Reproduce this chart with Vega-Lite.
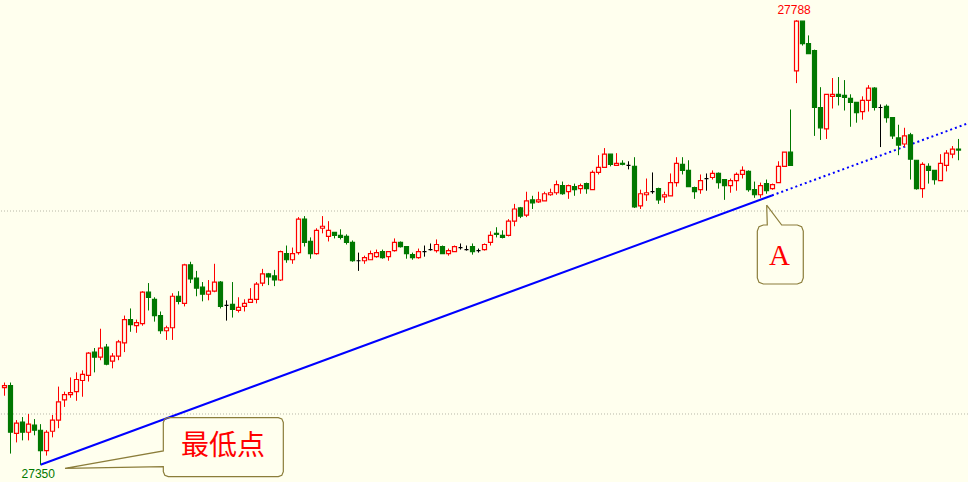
{
  "$schema": "https://vega.github.io/schema/vega-lite/v6.json",
  "width": 968,
  "height": 482,
  "padding": 0,
  "autosize": {"type": "none"},
  "background": "#ffffee",
  "config": {"view": {"stroke": null}, "scale": {"continuousPadding": 0}},
  "datasets": {
    "k": [
      {"i":0,"o":27426,"h":27431,"l":27418,"c":27428},
      {"i":1,"o":27428,"h":27431,"l":27361,"c":27382},
      {"i":2,"o":27381,"h":27394,"l":27372,"c":27391},
      {"i":3,"o":27392,"h":27397,"l":27374,"c":27382},
      {"i":4,"o":27382,"h":27400,"l":27374,"c":27390},
      {"i":5,"o":27389,"h":27395,"l":27379,"c":27384},
      {"i":6,"o":27384,"h":27390,"l":27350,"c":27364},
      {"i":7,"o":27364,"h":27384,"l":27359,"c":27382},
      {"i":8,"o":27383,"h":27399,"l":27377,"c":27394},
      {"i":9,"o":27394,"h":27427,"l":27386,"c":27412},
      {"i":10,"o":27414,"h":27422,"l":27407,"c":27419},
      {"i":11,"o":27419,"h":27436,"l":27416,"c":27421},
      {"i":12,"o":27422,"h":27441,"l":27413,"c":27434},
      {"i":13,"o":27433,"h":27443,"l":27417,"c":27439},
      {"i":14,"o":27438,"h":27461,"l":27432,"c":27460},
      {"i":15,"o":27461,"h":27465,"l":27441,"c":27456},
      {"i":16,"o":27456,"h":27484,"l":27453,"c":27465},
      {"i":17,"o":27466,"h":27469,"l":27448,"c":27449},
      {"i":18,"o":27452,"h":27460,"l":27445,"c":27457},
      {"i":19,"o":27457,"h":27473,"l":27453,"c":27471},
      {"i":20,"o":27470,"h":27497,"l":27461,"c":27493},
      {"i":21,"o":27493,"h":27504,"l":27481,"c":27488},
      {"i":22,"o":27487,"h":27493,"l":27480,"c":27490},
      {"i":23,"o":27489,"h":27521,"l":27487,"c":27520},
      {"i":24,"o":27520,"h":27529,"l":27502,"c":27515},
      {"i":25,"o":27513,"h":27515,"l":27491,"c":27497},
      {"i":26,"o":27497,"h":27501,"l":27479,"c":27482},
      {"i":27,"o":27482,"h":27487,"l":27473,"c":27485},
      {"i":28,"o":27485,"h":27519,"l":27473,"c":27516},
      {"i":29,"o":27516,"h":27521,"l":27508,"c":27511},
      {"i":30,"o":27509,"h":27548,"l":27506,"c":27547},
      {"i":31,"o":27547,"h":27550,"l":27529,"c":27533},
      {"i":32,"o":27534,"h":27541,"l":27516,"c":27524},
      {"i":33,"o":27525,"h":27530,"l":27511,"c":27518},
      {"i":34,"o":27518,"h":27532,"l":27512,"c":27521},
      {"i":35,"o":27521,"h":27548,"l":27520,"c":27530},
      {"i":36,"o":27530,"h":27531,"l":27504,"c":27506},
      {"i":37,"o":27507,"h":27512,"l":27492,"c":27507},
      {"i":38,"o":27508,"h":27530,"l":27495,"c":27503},
      {"i":39,"o":27502,"h":27515,"l":27500,"c":27505},
      {"i":40,"o":27506,"h":27513,"l":27501,"c":27509},
      {"i":41,"o":27510,"h":27524,"l":27510,"c":27513},
      {"i":42,"o":27513,"h":27530,"l":27509,"c":27528},
      {"i":43,"o":27529,"h":27543,"l":27526,"c":27538},
      {"i":44,"o":27538,"h":27539,"l":27527,"c":27535},
      {"i":45,"o":27536,"h":27542,"l":27526,"c":27532},
      {"i":46,"o":27532,"h":27561,"l":27531,"c":27560},
      {"i":47,"o":27558,"h":27566,"l":27549,"c":27552},
      {"i":48,"o":27552,"h":27564,"l":27548,"c":27558},
      {"i":49,"o":27559,"h":27594,"l":27557,"c":27592},
      {"i":50,"o":27592,"h":27595,"l":27565,"c":27569},
      {"i":51,"o":27570,"h":27574,"l":27553,"c":27558},
      {"i":52,"o":27558,"h":27583,"l":27557,"c":27581},
      {"i":53,"o":27583,"h":27595,"l":27578,"c":27585},
      {"i":54,"o":27575,"h":27590,"l":27570,"c":27581},
      {"i":55,"o":27579,"h":27579,"l":27573,"c":27576},
      {"i":56,"o":27576,"h":27582,"l":27572,"c":27574},
      {"i":57,"o":27575,"h":27577,"l":27567,"c":27569},
      {"i":58,"o":27569,"h":27571,"l":27550,"c":27551},
      {"i":59,"o":27551,"h":27559,"l":27541,"c":27551},
      {"i":60,"o":27551,"h":27556,"l":27548,"c":27554},
      {"i":61,"o":27552,"h":27561,"l":27552,"c":27558},
      {"i":62,"o":27555,"h":27562,"l":27554,"c":27559},
      {"i":63,"o":27560,"h":27562,"l":27553,"c":27554},
      {"i":64,"o":27555,"h":27560,"l":27551,"c":27560},
      {"i":65,"o":27561,"h":27573,"l":27560,"c":27569},
      {"i":66,"o":27569,"h":27570,"l":27564,"c":27565},
      {"i":67,"o":27565,"h":27565,"l":27553,"c":27558},
      {"i":68,"o":27557,"h":27559,"l":27552,"c":27554},
      {"i":69,"o":27554,"h":27563,"l":27553,"c":27560},
      {"i":70,"o":27560,"h":27566,"l":27555,"c":27560},
      {"i":71,"o":27562,"h":27568,"l":27561,"c":27562},
      {"i":72,"o":27561,"h":27572,"l":27559,"c":27567},
      {"i":73,"o":27565,"h":27566,"l":27558,"c":27558},
      {"i":74,"o":27558,"h":27563,"l":27556,"c":27561},
      {"i":75,"o":27560,"h":27566,"l":27560,"c":27565},
      {"i":76,"o":27564,"h":27568,"l":27562,"c":27564},
      {"i":77,"o":27562,"h":27566,"l":27561,"c":27562},
      {"i":78,"o":27565,"h":27568,"l":27557,"c":27560},
      {"i":79,"o":27561,"h":27563,"l":27559,"c":27561},
      {"i":80,"o":27562,"h":27568,"l":27561,"c":27567},
      {"i":81,"o":27569,"h":27580,"l":27566,"c":27576},
      {"i":82,"o":27578,"h":27584,"l":27574,"c":27577},
      {"i":83,"o":27576,"h":27581,"l":27573,"c":27574},
      {"i":84,"o":27576,"h":27592,"l":27575,"c":27590},
      {"i":85,"o":27590,"h":27607,"l":27585,"c":27602},
      {"i":86,"o":27603,"h":27604,"l":27593,"c":27595},
      {"i":87,"o":27596,"h":27619,"l":27594,"c":27610},
      {"i":88,"o":27611,"h":27615,"l":27602,"c":27608},
      {"i":89,"o":27609,"h":27619,"l":27608,"c":27611},
      {"i":90,"o":27610,"h":27619,"l":27610,"c":27617},
      {"i":91,"o":27616,"h":27622,"l":27615,"c":27618},
      {"i":92,"o":27618,"h":27630,"l":27616,"c":27626},
      {"i":93,"o":27625,"h":27629,"l":27616,"c":27617},
      {"i":94,"o":27619,"h":27626,"l":27612,"c":27625},
      {"i":95,"o":27624,"h":27627,"l":27615,"c":27621},
      {"i":96,"o":27622,"h":27627,"l":27617,"c":27625},
      {"i":97,"o":27627,"h":27628,"l":27617,"c":27622},
      {"i":98,"o":27621,"h":27640,"l":27621,"c":27638},
      {"i":99,"o":27638,"h":27655,"l":27636,"c":27643},
      {"i":100,"o":27643,"h":27662,"l":27643,"c":27656},
      {"i":101,"o":27656,"h":27656,"l":27644,"c":27646},
      {"i":102,"o":27645,"h":27657,"l":27645,"c":27647},
      {"i":103,"o":27647,"h":27650,"l":27645,"c":27646},
      {"i":104,"o":27645,"h":27649,"l":27641,"c":27645},
      {"i":105,"o":27644,"h":27653,"l":27603,"c":27604},
      {"i":106,"o":27605,"h":27621,"l":27602,"c":27617},
      {"i":107,"o":27616,"h":27632,"l":27610,"c":27618},
      {"i":108,"o":27619,"h":27638,"l":27617,"c":27619},
      {"i":109,"o":27622,"h":27623,"l":27607,"c":27611},
      {"i":110,"o":27614,"h":27619,"l":27608,"c":27616},
      {"i":111,"o":27615,"h":27637,"l":27615,"c":27628},
      {"i":112,"o":27628,"h":27653,"l":27624,"c":27647},
      {"i":113,"o":27646,"h":27653,"l":27636,"c":27640},
      {"i":114,"o":27640,"h":27650,"l":27624,"c":27624},
      {"i":115,"o":27623,"h":27624,"l":27612,"c":27619},
      {"i":116,"o":27621,"h":27636,"l":27617,"c":27630},
      {"i":117,"o":27632,"h":27637,"l":27620,"c":27632},
      {"i":118,"o":27633,"h":27640,"l":27631,"c":27637},
      {"i":119,"o":27637,"h":27638,"l":27622,"c":27628},
      {"i":120,"o":27631,"h":27631,"l":27611,"c":27625},
      {"i":121,"o":27625,"h":27632,"l":27618,"c":27630},
      {"i":122,"o":27630,"h":27638,"l":27620,"c":27636},
      {"i":123,"o":27636,"h":27644,"l":27632,"c":27640},
      {"i":124,"o":27639,"h":27640,"l":27619,"c":27621},
      {"i":125,"o":27621,"h":27629,"l":27613,"c":27616},
      {"i":126,"o":27616,"h":27628,"l":27613,"c":27625},
      {"i":127,"o":27627,"h":27631,"l":27617,"c":27620},
      {"i":128,"o":27622,"h":27627,"l":27621,"c":27626},
      {"i":129,"o":27628,"h":27649,"l":27628,"c":27644},
      {"i":130,"o":27644,"h":27658,"l":27644,"c":27658},
      {"i":131,"o":27658,"h":27700,"l":27645,"c":27645},
      {"i":132,"o":27738,"h":27788,"l":27726,"c":27787},
      {"i":133,"o":27787,"h":27787,"l":27763,"c":27765},
      {"i":134,"o":27765,"h":27773,"l":27755,"c":27755},
      {"i":135,"o":27758,"h":27759,"l":27674,"c":27702},
      {"i":136,"o":27702,"h":27722,"l":27670,"c":27682},
      {"i":137,"o":27681,"h":27715,"l":27671,"c":27715},
      {"i":138,"o":27713,"h":27731,"l":27701,"c":27715},
      {"i":139,"o":27715,"h":27732,"l":27704,"c":27713},
      {"i":140,"o":27714,"h":27729,"l":27699,"c":27712},
      {"i":141,"o":27711,"h":27715,"l":27683,"c":27707},
      {"i":142,"o":27707,"h":27707,"l":27687,"c":27697},
      {"i":143,"o":27698,"h":27713,"l":27690,"c":27709},
      {"i":144,"o":27709,"h":27724,"l":27698,"c":27721},
      {"i":145,"o":27721,"h":27722,"l":27699,"c":27702},
      {"i":146,"o":27702,"h":27705,"l":27663,"c":27702},
      {"i":147,"o":27703,"h":27705,"l":27687,"c":27692},
      {"i":148,"o":27692,"h":27692,"l":27671,"c":27674},
      {"i":149,"o":27672,"h":27685,"l":27655,"c":27665},
      {"i":150,"o":27666,"h":27682,"l":27663,"c":27674},
      {"i":151,"o":27675,"h":27677,"l":27631,"c":27651},
      {"i":152,"o":27650,"h":27650,"l":27621,"c":27622},
      {"i":153,"o":27622,"h":27648,"l":27613,"c":27646},
      {"i":154,"o":27644,"h":27647,"l":27627,"c":27640},
      {"i":155,"o":27640,"h":27640,"l":27626,"c":27631},
      {"i":156,"o":27630,"h":27656,"l":27630,"c":27647},
      {"i":157,"o":27645,"h":27660,"l":27639,"c":27657},
      {"i":158,"o":27656,"h":27664,"l":27652,"c":27661},
      {"i":159,"o":27661,"h":27671,"l":27650,"c":27660}
    ],
    "callouts": [
      {"g":"low","k":0,"i":10.08,"p":27346.5},
      {"g":"low","k":1,"i":26.47,"p":27363.6},
      {"g":"low","k":2,"i":26.47,"p":27391.7},
      {"g":"low","k":3,"i":26.72,"p":27395.2},
      {"g":"low","k":4,"i":27.3,"p":27396.4},
      {"g":"low","k":5,"i":45.63,"p":27396.4},
      {"g":"low","k":6,"i":46.22,"p":27395.2},
      {"g":"low","k":7,"i":46.47,"p":27391.7},
      {"g":"low","k":8,"i":46.47,"p":27343.2},
      {"g":"low","k":9,"i":46.22,"p":27339.7},
      {"g":"low","k":10,"i":45.63,"p":27338.3},
      {"g":"low","k":11,"i":27.3,"p":27338.3},
      {"g":"low","k":12,"i":26.72,"p":27339.7},
      {"g":"low","k":13,"i":26.47,"p":27343.2},
      {"g":"low","k":14,"i":26.47,"p":27348.1},
      {"g":"low","k":15,"i":10.08,"p":27346.5},
      {"g":"a","k":0,"i":127.03,"p":27605.9},
      {"g":"a","k":1,"i":127.13,"p":27586.2},
      {"g":"a","k":2,"i":126.47,"p":27586.2},
      {"g":"a","k":3,"i":125.75,"p":27584.6},
      {"g":"a","k":4,"i":125.47,"p":27580.3},
      {"g":"a","k":5,"i":125.47,"p":27534.0},
      {"g":"a","k":6,"i":125.75,"p":27529.7},
      {"g":"a","k":7,"i":126.47,"p":27528.1},
      {"g":"a","k":8,"i":132.13,"p":27528.1},
      {"g":"a","k":9,"i":132.85,"p":27529.7},
      {"g":"a","k":10,"i":133.13,"p":27534.0},
      {"g":"a","k":11,"i":133.13,"p":27580.3},
      {"g":"a","k":12,"i":132.85,"p":27584.6},
      {"g":"a","k":13,"i":132.13,"p":27586.2},
      {"g":"a","k":14,"i":129.53,"p":27586.2},
      {"g":"a","k":15,"i":127.03,"p":27605.9}
    ]
  },
  "layer": [
    {
      "data": {"values": [{"p": 27400}, {"p": 27600}]},
      "mark": {"type": "rule", "color": "#b8b8a8", "strokeWidth": 1, "strokeDash": [1, 2]},
      "encoding": {
        "y": {"field": "p", "type": "quantitative", "scale": {"domain": [27333, 27807.9], "zero": false, "nice": false, "padding": 0}, "axis": null}
      }
    },
    {
      "data": {"values": [{"i": 6, "p": 27350}, {"i": 127.9, "p": 27615.3}]},
      "mark": {"type": "line", "color": "#0000ff", "strokeWidth": 2},
      "encoding": {
        "x": {"field": "i", "type": "quantitative", "scale": {"domain": [-0.75, 160.5833], "zero": false, "nice": false, "padding": 0}, "axis": null},
        "y": {"field": "p", "type": "quantitative", "axis": null}
      }
    },
    {
      "data": {"values": [{"i": 127.9, "p": 27615.3}, {"i": 160.5833, "p": 27686.4}]},
      "mark": {"type": "line", "color": "#0000ff", "strokeWidth": 2, "strokeDash": [2, 3]},
      "encoding": {
        "x": {"field": "i", "type": "quantitative", "axis": null},
        "y": {"field": "p", "type": "quantitative", "axis": null}
      }
    },
    {
      "data": {"name": "k"},
      "mark": {"type": "rule", "strokeWidth": 1},
      "encoding": {
        "x": {"field": "i", "type": "quantitative", "axis": null},
        "y": {"field": "l", "type": "quantitative", "axis": null},
        "y2": {"field": "h"},
        "color": {
          "condition": [
            {"test": "datum.c > datum.o", "value": "#ff0000"},
            {"test": "datum.c < datum.o", "value": "#007800"}
          ],
          "value": "#000000"
        }
      }
    },
    {
      "data": {"name": "k"},
      "mark": {"type": "bar", "width": 4, "strokeWidth": 1.2},
      "encoding": {
        "x": {"field": "i", "type": "quantitative", "axis": null},
        "y": {"field": "o", "type": "quantitative", "axis": null},
        "y2": {"field": "c"},
        "fill": {
          "condition": [{"test": "datum.c < datum.o", "value": "#007800"}],
          "value": "#ffffee"
        },
        "stroke": {
          "condition": [
            {"test": "datum.c > datum.o", "value": "#ff0000"},
            {"test": "datum.c < datum.o", "value": "#007800"}
          ],
          "value": "#000000"
        }
      }
    },
    {
      "data": {"name": "callouts"},
      "mark": {"type": "line", "color": "#8b7d3a", "strokeWidth": 1.2},
      "encoding": {
        "x": {"field": "i", "type": "quantitative", "axis": null},
        "y": {"field": "p", "type": "quantitative", "axis": null},
        "detail": {"field": "g"},
        "order": {"field": "k", "type": "quantitative"}
      }
    },
    {
      "data": {"values": [{"i": 36.42, "p": 27367.5, "t": "最低点"}]},
      "mark": {"type": "text", "font": "Noto Sans CJK SC", "fontSize": 28, "color": "#ff0000", "align": "center", "baseline": "middle"},
      "encoding": {
        "x": {"field": "i", "type": "quantitative", "axis": null},
        "y": {"field": "p", "type": "quantitative", "axis": null},
        "text": {"field": "t"}
      }
    },
    {
      "data": {"values": [{"i": 129.17, "p": 27555.7, "t": "A"}]},
      "mark": {"type": "text", "font": "Liberation Serif", "fontSize": 29, "color": "#ff0000", "align": "center", "baseline": "middle"},
      "encoding": {
        "x": {"field": "i", "type": "quantitative", "axis": null},
        "y": {"field": "p", "type": "quantitative", "axis": null},
        "text": {"field": "t"}
      }
    },
    {
      "data": {"values": [{"i": 5.63, "p": 27340.9, "t": "27350"}]},
      "mark": {"type": "text", "font": "Liberation Sans", "fontSize": 12, "color": "#007800", "align": "center", "baseline": "middle"},
      "encoding": {
        "x": {"field": "i", "type": "quantitative", "axis": null},
        "y": {"field": "p", "type": "quantitative", "axis": null},
        "text": {"field": "t"}
      }
    },
    {
      "data": {"values": [{"i": 131.6, "p": 27797.6, "t": "27788"}]},
      "mark": {"type": "text", "font": "Liberation Sans", "fontSize": 12, "color": "#ff0000", "align": "center", "baseline": "middle"},
      "encoding": {
        "x": {"field": "i", "type": "quantitative", "axis": null},
        "y": {"field": "p", "type": "quantitative", "axis": null},
        "text": {"field": "t"}
      }
    }
  ]
}
